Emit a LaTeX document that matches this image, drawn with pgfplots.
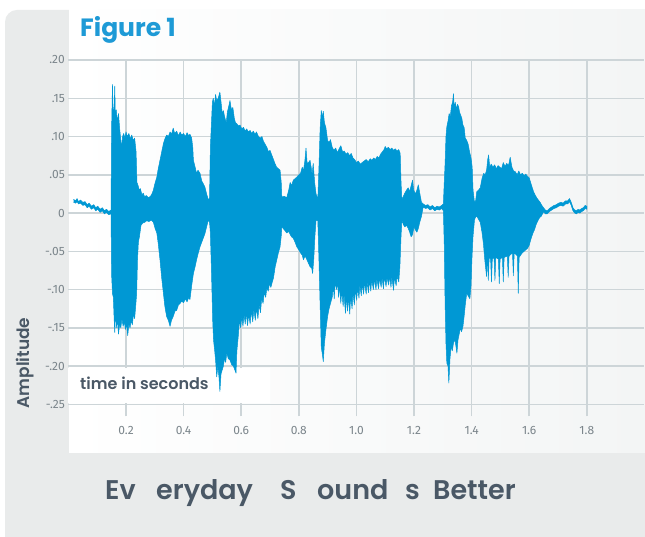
\documentclass[border=0pt]{standalone}
\usepackage{fontspec}
\setmainfont{Poppins}
\newfontfamily\semib{Poppins}[UprightFont={* SemiBold}]
\newfontfamily\tickfont{Fira Sans}
\usepackage{pgfplots}
\usepackage{pgfplotstable}
\pgfplotsset{compat=1.18}

\definecolor{wave}{HTML}{0098D4}
\definecolor{titleblue}{HTML}{1E9AD6}
\definecolor{panel}{HTML}{E9EBEB}
\definecolor{plotbg}{HTML}{F3F5F5}
\definecolor{gridc}{HTML}{CDD5D8}
\definecolor{tickgray}{HTML}{7B858B}
\definecolor{darktext}{HTML}{4A5866}

% upper envelope of the waveform
\pgfplotstableread{
x y
0.018 0.018
0.025 0.016
0.030 0.019
0.035 0.015
0.042 0.017
0.050 0.014
0.058 0.015
0.065 0.011
0.072 0.013
0.080 0.009
0.088 0.011
0.095 0.007
0.102 0.009
0.110 0.005
0.118 0.007
0.125 0.003
0.132 0.005
0.140 0.002
0.148 0.004
0.150 0.110
0.153 0.168
0.156 0.120
0.159 0.140
0.161 0.166
0.163 0.128
0.166 0.135
0.170 0.120
0.174 0.130
0.178 0.110
0.182 0.095
0.185 0.086
0.188 0.100
0.192 0.104
0.196 0.098
0.200 0.106
0.205 0.100
0.210 0.104
0.215 0.097
0.220 0.102
0.225 0.095
0.230 0.098
0.235 0.080
0.238 0.040
0.242 0.036
0.246 0.030
0.250 0.032
0.255 0.024
0.260 0.026
0.265 0.021
0.270 0.023
0.278 0.020
0.285 0.022
0.290 0.025
0.295 0.030
0.300 0.038
0.307 0.047
0.312 0.058
0.318 0.069
0.324 0.080
0.330 0.091
0.335 0.097
0.341 0.102
0.347 0.100
0.353 0.106
0.358 0.103
0.364 0.111
0.369 0.104
0.376 0.107
0.382 0.101
0.388 0.106
0.393 0.102
0.400 0.104
0.406 0.100
0.412 0.105
0.418 0.101
0.422 0.103
0.428 0.098
0.432 0.085
0.434 0.069
0.440 0.060
0.445 0.052
0.450 0.056
0.457 0.052
0.463 0.042
0.469 0.038
0.474 0.034
0.480 0.025
0.486 0.017
0.490 0.020
0.493 0.086
0.497 0.120
0.500 0.145
0.503 0.150
0.507 0.140
0.511 0.155
0.515 0.147
0.520 0.150
0.526 0.158
0.530 0.145
0.534 0.130
0.538 0.134
0.543 0.125
0.548 0.118
0.552 0.132
0.557 0.140
0.561 0.147
0.566 0.135
0.571 0.138
0.576 0.124
0.580 0.118
0.584 0.117
0.590 0.114
0.596 0.115
0.602 0.110
0.608 0.112
0.614 0.107
0.619 0.110
0.625 0.106
0.631 0.108
0.636 0.104
0.642 0.107
0.648 0.103
0.653 0.106
0.660 0.100
0.666 0.098
0.672 0.100
0.677 0.094
0.683 0.090
0.689 0.086
0.695 0.080
0.700 0.082
0.706 0.076
0.712 0.070
0.718 0.064
0.723 0.060
0.729 0.058
0.735 0.056
0.739 0.040
0.741 0.021
0.750 0.022
0.758 0.020
0.765 0.030
0.770 0.040
0.775 0.036
0.781 0.043
0.787 0.045
0.793 0.047
0.800 0.050
0.806 0.052
0.812 0.060
0.816 0.055
0.821 0.068
0.825 0.085
0.829 0.065
0.834 0.066
0.839 0.069
0.843 0.060
0.846 0.050
0.850 0.065
0.855 0.040
0.860 0.025
0.866 0.018
0.870 0.060
0.874 0.110
0.878 0.134
0.882 0.125
0.885 0.133
0.889 0.118
0.894 0.112
0.900 0.095
0.905 0.092
0.910 0.096
0.916 0.086
0.922 0.082
0.928 0.085
0.934 0.079
0.940 0.084
0.946 0.088
0.952 0.080
0.958 0.081
0.964 0.077
0.970 0.079
0.976 0.075
0.982 0.078
0.988 0.072
0.994 0.070
1.000 0.066
1.007 0.068
1.013 0.064
1.020 0.066
1.027 0.068
1.034 0.070
1.041 0.067
1.048 0.071
1.054 0.069
1.060 0.072
1.066 0.070
1.072 0.074
1.078 0.072
1.084 0.077
1.090 0.080
1.096 0.083
1.100 0.087
1.105 0.084
1.111 0.086
1.117 0.083
1.123 0.085
1.129 0.082
1.135 0.084
1.141 0.081
1.147 0.083
1.152 0.078
1.155 0.040
1.158 0.017
1.163 0.022
1.168 0.026
1.174 0.030
1.180 0.033
1.185 0.028
1.190 0.036
1.195 0.043
1.199 0.030
1.205 0.025
1.210 0.030
1.215 0.037
1.220 0.026
1.226 0.014
1.232 0.012
1.240 0.010
1.248 0.011
1.256 0.008
1.264 0.010
1.272 0.007
1.280 0.009
1.288 0.008
1.296 0.010
1.302 0.012
1.305 0.040
1.308 0.065
1.311 0.100
1.314 0.113
1.318 0.120
1.322 0.130
1.326 0.126
1.330 0.140
1.334 0.145
1.337 0.156
1.340 0.135
1.343 0.145
1.347 0.136
1.351 0.142
1.355 0.139
1.358 0.132
1.362 0.128
1.366 0.124
1.370 0.115
1.374 0.112
1.378 0.098
1.383 0.095
1.388 0.090
1.393 0.080
1.398 0.072
1.402 0.060
1.405 0.030
1.410 0.014
1.414 0.016
1.418 0.028
1.424 0.030
1.430 0.033
1.436 0.045
1.442 0.052
1.447 0.050
1.452 0.056
1.456 0.070
1.459 0.076
1.463 0.060
1.468 0.064
1.474 0.060
1.480 0.063
1.486 0.058
1.492 0.062
1.498 0.060
1.504 0.058
1.510 0.066
1.516 0.061
1.522 0.065
1.528 0.062
1.534 0.073
1.540 0.060
1.546 0.055
1.552 0.054
1.558 0.050
1.564 0.055
1.570 0.050
1.576 0.052
1.582 0.049
1.588 0.051
1.594 0.048
1.600 0.046
1.605 0.040
1.610 0.034
1.615 0.028
1.620 0.024
1.626 0.020
1.632 0.017
1.638 0.014
1.644 0.010
1.650 0.007
1.656 0.004
1.662 0.003
1.670 0.006
1.678 0.008
1.686 0.010
1.694 0.011
1.702 0.013
1.710 0.014
1.718 0.013
1.726 0.016
1.734 0.016
1.740 0.019
1.746 0.014
1.752 0.007
1.758 0.004
1.764 0.003
1.770 0.005
1.776 0.004
1.782 0.006
1.788 0.007
1.794 0.010
1.800 0.009
}\hienv

% lower envelope of the waveform
\pgfplotstableread{
x y
0.018 0.014
0.025 0.013
0.030 0.015
0.035 0.012
0.042 0.013
0.050 0.010
0.058 0.011
0.065 0.007
0.072 0.009
0.080 0.005
0.088 0.007
0.095 0.003
0.102 0.005
0.110 0.001
0.118 0.003
0.125 -0.001
0.132 0.001
0.140 -0.002
0.148 -0.001
0.150 -0.080
0.153 -0.105
0.156 -0.110
0.159 -0.140
0.161 -0.156
0.163 -0.120
0.166 -0.150
0.170 -0.140
0.174 -0.158
0.178 -0.145
0.182 -0.150
0.186 -0.138
0.190 -0.148
0.194 -0.142
0.198 -0.152
0.202 -0.145
0.206 -0.160
0.210 -0.145
0.214 -0.150
0.218 -0.140
0.222 -0.146
0.226 -0.132
0.230 -0.138
0.234 -0.120
0.237 -0.105
0.240 -0.060
0.243 -0.038
0.247 -0.030
0.252 -0.016
0.258 -0.013
0.265 -0.012
0.272 -0.010
0.280 -0.011
0.288 -0.009
0.295 -0.012
0.301 -0.020
0.307 -0.026
0.312 -0.040
0.318 -0.061
0.324 -0.085
0.330 -0.105
0.335 -0.122
0.341 -0.135
0.347 -0.140
0.353 -0.148
0.358 -0.140
0.364 -0.135
0.370 -0.128
0.376 -0.127
0.382 -0.120
0.388 -0.118
0.393 -0.115
0.400 -0.117
0.406 -0.112
0.412 -0.116
0.418 -0.110
0.422 -0.113
0.428 -0.095
0.434 -0.079
0.440 -0.070
0.445 -0.061
0.451 -0.052
0.457 -0.044
0.463 -0.038
0.469 -0.032
0.474 -0.027
0.480 -0.018
0.486 -0.009
0.490 -0.012
0.493 -0.026
0.497 -0.079
0.501 -0.140
0.504 -0.166
0.508 -0.180
0.511 -0.192
0.515 -0.214
0.519 -0.200
0.523 -0.215
0.526 -0.233
0.530 -0.210
0.534 -0.205
0.538 -0.200
0.542 -0.190
0.546 -0.195
0.550 -0.183
0.555 -0.190
0.561 -0.192
0.567 -0.198
0.573 -0.200
0.578 -0.205
0.582 -0.209
0.585 -0.180
0.590 -0.160
0.594 -0.140
0.598 -0.150
0.602 -0.135
0.606 -0.148
0.610 -0.133
0.614 -0.145
0.618 -0.130
0.622 -0.147
0.626 -0.132
0.631 -0.145
0.635 -0.128
0.640 -0.142
0.644 -0.126
0.649 -0.140
0.653 -0.124
0.658 -0.138
0.662 -0.120
0.667 -0.130
0.671 -0.112
0.676 -0.118
0.680 -0.104
0.685 -0.110
0.689 -0.098
0.694 -0.102
0.698 -0.092
0.703 -0.097
0.708 -0.090
0.712 -0.085
0.718 -0.070
0.723 -0.062
0.729 -0.052
0.735 -0.044
0.739 -0.030
0.741 -0.018
0.750 -0.022
0.758 -0.026
0.765 -0.024
0.770 -0.028
0.775 -0.031
0.781 -0.033
0.787 -0.038
0.793 -0.044
0.800 -0.048
0.806 -0.052
0.812 -0.055
0.816 -0.061
0.822 -0.056
0.827 -0.060
0.833 -0.065
0.839 -0.070
0.845 -0.072
0.848 -0.079
0.852 -0.060
0.856 -0.030
0.860 -0.009
0.866 -0.010
0.870 -0.061
0.874 -0.120
0.878 -0.175
0.882 -0.185
0.885 -0.194
0.889 -0.170
0.894 -0.153
0.900 -0.135
0.905 -0.125
0.910 -0.118
0.916 -0.110
0.920 -0.095
0.923 -0.112
0.926 -0.092
0.932 -0.100
0.935 -0.088
0.938 -0.110
0.941 -0.095
0.946 -0.118
0.949 -0.100
0.954 -0.122
0.957 -0.105
0.962 -0.131
0.965 -0.108
0.969 -0.128
0.972 -0.110
0.977 -0.132
0.980 -0.108
0.985 -0.125
0.988 -0.105
0.993 -0.120
0.996 -0.100
1.001 -0.114
1.004 -0.098
1.009 -0.111
1.012 -0.094
1.017 -0.108
1.020 -0.092
1.025 -0.106
1.028 -0.090
1.034 -0.106
1.037 -0.090
1.042 -0.104
1.045 -0.088
1.050 -0.102
1.053 -0.087
1.059 -0.100
1.062 -0.086
1.068 -0.100
1.071 -0.086
1.077 -0.099
1.080 -0.085
1.086 -0.097
1.089 -0.084
1.094 -0.099
1.097 -0.083
1.103 -0.096
1.106 -0.084
1.112 -0.094
1.115 -0.082
1.120 -0.097
1.123 -0.083
1.129 -0.101
1.132 -0.084
1.138 -0.095
1.141 -0.082
1.147 -0.090
1.151 -0.070
1.155 -0.030
1.158 -0.009
1.163 -0.015
1.168 -0.018
1.174 -0.016
1.180 -0.020
1.185 -0.025
1.190 -0.031
1.195 -0.028
1.200 -0.018
1.205 -0.022
1.210 -0.025
1.215 -0.020
1.220 -0.012
1.226 -0.004
1.232 0.008
1.240 0.006
1.248 0.007
1.256 0.004
1.264 0.006
1.272 0.003
1.280 0.005
1.288 0.004
1.296 0.006
1.302 0.003
1.305 -0.040
1.308 -0.118
1.311 -0.170
1.314 -0.196
1.318 -0.200
1.321 -0.222
1.325 -0.190
1.329 -0.174
1.333 -0.180
1.337 -0.170
1.342 -0.165
1.346 -0.175
1.349 -0.183
1.353 -0.165
1.357 -0.158
1.361 -0.150
1.365 -0.155
1.370 -0.148
1.374 -0.135
1.378 -0.120
1.383 -0.105
1.388 -0.108
1.394 -0.112
1.398 -0.095
1.401 -0.061
1.405 -0.030
1.410 -0.009
1.414 -0.005
1.418 -0.004
1.424 -0.008
1.430 -0.012
1.436 -0.025
1.441 -0.040
1.446 -0.062
1.452 -0.083
1.455 -0.055
1.458 -0.088
1.461 -0.058
1.466 -0.060
1.469 -0.090
1.472 -0.060
1.478 -0.058
1.481 -0.088
1.484 -0.058
1.493 -0.060
1.496 -0.092
1.499 -0.060
1.507 -0.058
1.510 -0.090
1.513 -0.058
1.524 -0.056
1.527 -0.084
1.530 -0.056
1.542 -0.052
1.545 -0.082
1.548 -0.052
1.559 -0.056
1.562 -0.105
1.565 -0.058
1.570 -0.055
1.576 -0.052
1.582 -0.050
1.588 -0.048
1.594 -0.046
1.600 -0.042
1.606 -0.034
1.612 -0.027
1.618 -0.022
1.624 -0.015
1.630 -0.010
1.636 -0.006
1.642 -0.004
1.650 0.002
1.656 -0.001
1.662 -0.001
1.670 0.002
1.678 0.004
1.686 0.006
1.694 0.007
1.702 0.009
1.710 0.010
1.718 0.009
1.726 0.012
1.734 0.012
1.740 0.015
1.746 0.010
1.752 0.003
1.758 0.000
1.764 -0.001
1.770 0.001
1.776 0.000
1.782 0.002
1.788 0.003
1.794 0.006
1.800 0.005
}\loenv

% outline = upper envelope forward, lower envelope backward
\pgfplotstablesort[sort key=x, sort cmp=float >]{\loenvrev}{\loenv}
\pgfplotstablevertcat{\hienv}{\loenvrev}

\begin{document}
\begin{tikzpicture}[x=1pt, y=1pt]
  \path[use as bounding box] (0,0) rectangle (645,537);
  \fill[white] (0,0) rectangle (645,537);
  \fill[panel] (645,0) -- (5,0) [rounded corners=12pt] -- (5,527) -- (69,527) [sharp corners] -- (645,527) -- cycle;
  \shade[left color=white, right color=plotbg] (69,84) rectangle (645,527);

  \begin{axis}[
    at={(68.4pt,120.5pt)}, anchor=south west,
    scale only axis, width=576pt, height=356.5pt,
    xmin=0, xmax=2, ymin=-0.2657, ymax=0.2,
    axis line style={draw=none},
    xtick={0.2,0.4,0.6,0.8,1.0,1.2,1.4,1.6,1.8},
    xticklabels={0.2,0.4,0.6,0.8,1.0,1.2,1.4,1.6,1.8},
    ytick={-0.25,-0.2,-0.15,-0.1,-0.05,0,0.05,0.1,0.15,0.2},
    yticklabels={-.25,-.20,-.15,-.10,-.05,0,.05,.10,.15,.20},
    grid=major,
    major grid style={draw=gridc, line width=1.5pt},
    major tick length=0pt,
    tick style={draw=none},
    tick label style={font=\tickfont\fontsize{12}{14}\selectfont, text=tickgray},
    xticklabel style={yshift=-6pt},
    clip=false,
  ]
    % white band behind the axis caption
    \fill[white] (axis cs:0,-0.2018) rectangle (axis cs:0.70,-0.2482);
    \addplot[draw=wave, fill=wave, line width=0.5pt, line join=round] table {\hienv};
  \end{axis}

  \node[anchor=base west, inner sep=0pt, text=titleblue, font=\fontsize{25}{30}\selectfont\bfseries] at (80,500) {Figure 1};
  \node[anchor=base west, inner sep=0pt, text=darktext, font=\semib\fontsize{16}{19}\selectfont] at (80,147) {time in seconds};
  \node[rotate=90, inner sep=0pt, text=darktext, font=\semib\fontsize{17}{20}\selectfont] at (25,174) {Amplitude};

  \begin{scope}[every node/.style={anchor=base west, inner sep=0pt, text=darktext, font=\semib\fontsize{27}{32}\selectfont}]
    \node at (105,37) {Ev};
    \node at (156,37) {eryday};
    \node at (280,37) {S};
    \node at (317,37) {ound};
    \node at (405,37) {s};
    \node at (433,37) {Better};
  \end{scope}
\end{tikzpicture}
\end{document}
